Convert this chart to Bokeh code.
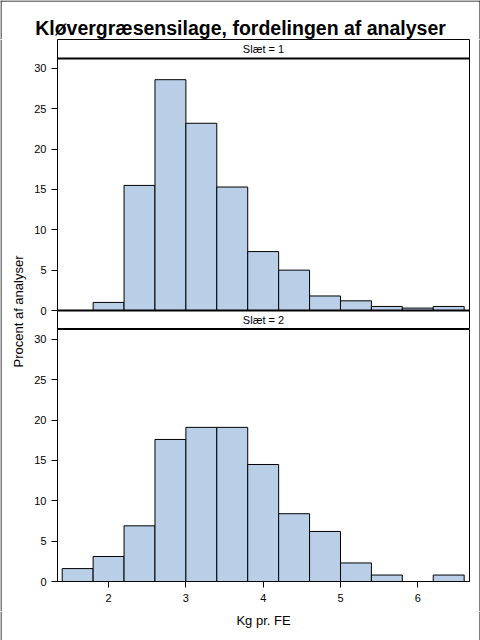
import math
from bokeh.plotting import figure
from bokeh.models import Range1d, Span, Label, FixedTicker, BoxAnnotation
from bokeh.layouts import column, row
from bokeh.embed import file_html
from bokeh.resources import INLINE

# ---------------- data ----------------
TITLE = "Kløvergræsensilage, fordelingen af analyser"
X_LABEL = "Kg pr. FE"
Y_LABEL = "Procent af analyser"
PANEL_LABELS = ["Slæt = 1", "Slæt = 2"]
BIN_EDGES = [1.4, 1.8, 2.2, 2.6, 3.0, 3.4, 3.8, 4.2, 4.6, 5.0, 5.4, 5.8, 6.2, 6.6]
PCT_SLAET1 = [0.0, 1.0, 15.5, 28.6, 23.2, 15.3, 7.3, 5.0, 1.8, 1.2, 0.5, 0.3, 0.5]
PCT_SLAET2 = [1.6, 3.1, 6.9, 17.6, 19.1, 19.1, 14.5, 8.4, 6.2, 2.3, 0.8, 0.0, 0.8]
Y_TICKS = [0, 5, 10, 15, 20, 25, 30]
X_TICKS = [2, 3, 4, 5, 6]

# ---------------- layout constants (px) ----------------
FONT = "Liberation Sans"
FILL = "#B9CFE7"
W, H = 480, 640
TITLE_H = 39
YLAB_W = 30
PANEL_W = 440
RIGHT_W = 10
BOTTOM_H = 30
FRAME_L = 27
FRAME_R = 1
STRIP_H = 19          # height of a panel header strip
PANEL_H = 252         # height of a data area
XAXIS_H = 30
PX_PER_UNIT = 8.07
X_START, X_END = 1.339, 6.669

data_top = PANEL_H / PX_PER_UNIT
strip_units = STRIP_H / PX_PER_UNIT

x_range = Range1d(X_START, X_END)


def style_axis(ax):
    ax.axis_line_color = "black"
    ax.major_tick_line_color = "black"
    ax.minor_tick_line_color = None
    ax.major_tick_out = 6
    ax.major_tick_in = 0
    ax.major_label_text_font = FONT
    ax.major_label_text_font_size = "11px"
    ax.major_label_text_color = "black"


def plain_fig(w, h):
    p = figure(width=w, height=h, x_range=Range1d(0, w), y_range=Range1d(0, h),
               output_backend="svg", toolbar_location=None, title=None,
               x_axis_type=None, y_axis_type=None, min_border=0)
    p.xgrid.visible = False
    p.ygrid.visible = False
    p.outline_line_color = None
    p.background_fill_color = "white"
    p.border_fill_color = "white"
    return p


def edge(p, **side):
    # one-pixel band of the picture's outer frame
    p.add_layout(BoxAnnotation(fill_color="black", fill_alpha=1.0,
                               line_color=None, **side))


def panel_fig(h, y_range, bottom_border):
    p = figure(width=PANEL_W, height=h, x_range=x_range, y_range=y_range,
               output_backend="svg", toolbar_location=None, title=None,
               x_axis_type=None if bottom_border == 0 else "linear",
               min_border_left=FRAME_L, min_border_right=FRAME_R,
               min_border_top=0, min_border_bottom=bottom_border)
    p.xgrid.visible = False
    p.ygrid.visible = False
    p.outline_line_color = "black"
    p.outline_line_width = 1
    p.background_fill_color = "white"
    p.border_fill_color = "white"
    p.yaxis.ticker = FixedTicker(ticks=Y_TICKS)
    p.yaxis.major_label_standoff = 5
    style_axis(p.yaxis[0])
    return p


# panel 1: header strip 1 on top, data area, then header strip 2 below
p1 = panel_fig(STRIP_H + PANEL_H + STRIP_H,
               Range1d(-strip_units, data_top + strip_units), 0)
p1.quad(left=BIN_EDGES[:-1], right=BIN_EDGES[1:], bottom=0, top=PCT_SLAET1,
        fill_color=FILL, line_color="black", line_width=1)
p1.add_layout(Span(location=data_top, dimension="width", line_color="black", line_width=2))
p1.add_layout(Span(location=0, dimension="width", line_color="black", line_width=2))
xmid = (X_START + X_END) / 2
p1.add_layout(Label(x=xmid, y=data_top + strip_units / 2, text=PANEL_LABELS[0],
                    text_align="center", text_baseline="middle",
                    text_font=FONT, text_font_size="11px", text_color="black"))
p1.add_layout(Label(x=xmid, y=-strip_units / 2, text=PANEL_LABELS[1],
                    text_align="center", text_baseline="middle",
                    text_font=FONT, text_font_size="11px", text_color="black"))

# panel 2: data area with x axis ticks
p2 = panel_fig(PANEL_H + XAXIS_H, Range1d(0, data_top), XAXIS_H)
p2.quad(left=BIN_EDGES[:-1], right=BIN_EDGES[1:], bottom=0, top=PCT_SLAET2,
        fill_color=FILL, line_color="black", line_width=1)
p2.xaxis.ticker = FixedTicker(ticks=X_TICKS)
p2.xaxis.major_label_standoff = 6
style_axis(p2.xaxis[0])

mid_h = p1.height + p2.height

# y-axis label column (also carries the left outer border)
pl = plain_fig(YLAB_W, mid_h)
edge(pl, right=1)
pl.add_layout(Label(x=18, y=mid_h - (311 - TITLE_H), text=Y_LABEL, angle=math.pi / 2,
                    text_align="center", text_baseline="middle",
                    text_font=FONT, text_font_size="13px", text_color="black"))

# right margin column (right outer border)
pr = plain_fig(RIGHT_W, mid_h)
edge(pr, left=RIGHT_W - 1)

# title row (top outer border)
pt = plain_fig(W, TITLE_H)
edge(pt, bottom=TITLE_H - 1)
edge(pt, right=1)
edge(pt, left=W - 1)
pt.add_layout(Label(x=W / 2, y=TITLE_H - 27.5, text=TITLE, text_align="center",
                    text_baseline="alphabetic", text_font=FONT,
                    text_font_size="19.5px", text_font_style="bold", text_color="black"))

# bottom row: x-axis title (bottom outer border)
pb = plain_fig(W, BOTTOM_H)
edge(pb, top=1)
edge(pb, right=1)
edge(pb, left=W - 1)
pb.add_layout(Label(x=YLAB_W + FRAME_L + 206, y=H - 619, text=X_LABEL,
                    text_align="center", text_baseline="middle",
                    text_font=FONT, text_font_size="13px", text_color="black"))

layout = column(pt, row(pl, column(p1, p2, spacing=0), pr, spacing=0), pb, spacing=0)

open("out.html", "w").write(file_html(layout, INLINE))
